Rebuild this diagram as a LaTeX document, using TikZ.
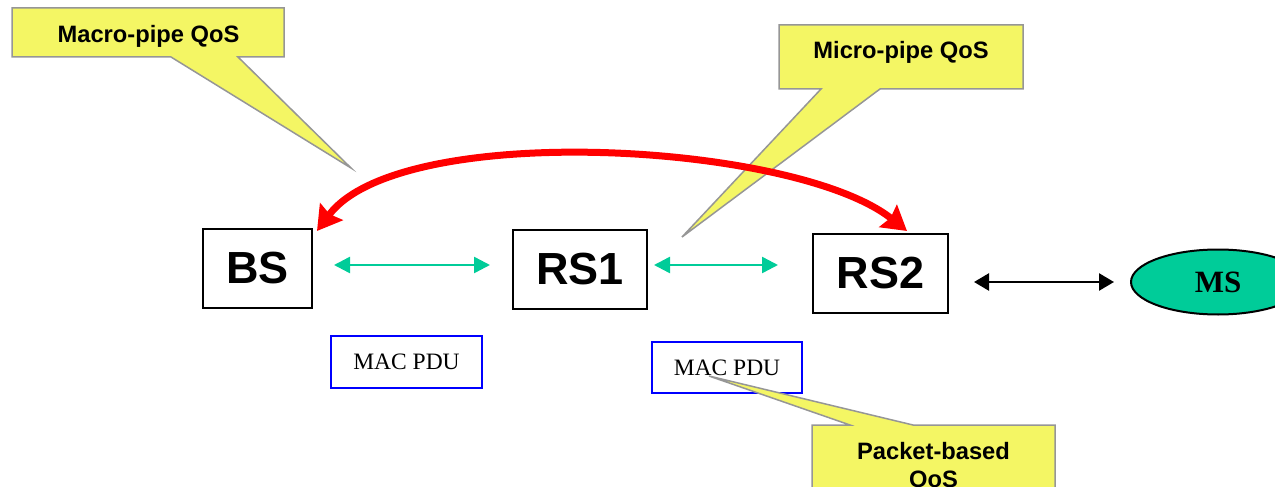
\documentclass[tikz,border=0pt]{standalone}
\usepackage{fontspec}
\setmainfont{Liberation Serif}
\setsansfont{Liberation Sans}
\usetikzlibrary{arrows.meta,shapes.geometric}
\definecolor{calloutyellow}{RGB}{244,246,100}
\definecolor{calloutgray}{RGB}{150,150,150}
\definecolor{linkgreen}{RGB}{0,204,153}
\definecolor{macblue}{RGB}{0,0,255}
\definecolor{arcred}{RGB}{255,0,0}
\begin{document}
\begin{tikzpicture}[x=1pt,y=-1pt,
  callout/.style={fill=calloutyellow,draw=calloutgray,line width=1.5pt,line join=miter},
  callouttext/.style={font=\fontsize{23.7}{28}\selectfont\sffamily\bfseries,inner sep=0pt,anchor=base},
  stationbox/.style={draw=black,line width=2pt,fill=white,inner sep=0pt,
    font=\fontsize{45}{50}\selectfont\sffamily\bfseries},
  pdubox/.style={draw=macblue,line width=2.5pt,inner sep=0pt,
    font=\fontsize{23.5}{26}\selectfont\rmfamily},
  greenlink/.style={draw=linkgreen,line width=2.5pt,{Triangle[length=16pt,width=16pt]}-{Triangle[length=16pt,width=16pt]}},
  blacklink/.style={draw=black,line width=2.5pt,{Triangle[length=15pt,width=17pt]}-{Triangle[length=15pt,width=17pt]}},
  redarc/.style={draw=arcred,line width=7pt,{Stealth[length=24pt,width=28pt,inset=3pt]}-{Stealth[length=24pt,width=28pt,inset=3pt]}},
  msnode/.style={ellipse,draw=black,line width=2pt,fill=linkgreen,inner sep=0pt,
    font=\fontsize{31}{34}\selectfont\rmfamily\bfseries}
]
\useasboundingbox (0,0) rectangle (1275,487);

% callouts (top)
\filldraw[callout] (12,8) -- (284,8) -- (284,57) -- (238,57) -- (351,168) -- (171,57) -- (12,57) -- cycle;
\node[callouttext] (macro) at (148.5,43) {Macro-pipe QoS};
\filldraw[callout] (779,25) -- (1023,25) -- (1023,89) -- (880,89) -- (682,237) -- (821,89) -- (779,89) -- cycle;
\node[callouttext] (micro) at (901,59) {Micro-pipe QoS};

% stations
\node[stationbox,minimum width=109pt,minimum height=79pt] (BS) at (257.5,268.5) {BS};
\node[stationbox,minimum width=134pt,minimum height=79pt] (RS1) at (580,269.5) {RS1};
\node[stationbox,minimum width=135pt,minimum height=79pt] (RS2) at (880.5,273.5) {RS2};
\node[msnode,minimum width=174pt,minimum height=65pt] (MS) at (1218,282) {MS};

% MAC PDU boxes
\node[pdubox,minimum width=151pt,minimum height=52pt] (pdu1) at (406.5,362) {MAC PDU};
\node[pdubox,minimum width=150pt,minimum height=51pt] (pdu2) at (727,367.5) {MAC PDU};

% links
\draw[greenlink,shorten <=21pt,shorten >=22pt] ([yshift=3.5pt]BS.east) -- ([yshift=3.5pt]BS.east -| RS1.west);
\draw[greenlink,shorten <=6pt,shorten >=34pt] ([yshift=4.5pt]RS1.east) -- ([yshift=4.5pt]RS1.east -| RS2.west);
\draw[blacklink,shorten <=25pt,shorten >=16pt] (RS2.east |- MS.west) -- (MS.west);

% red arc
\coordinate (bsend) at ([xshift=4pt,yshift=-3pt]BS.north east);
\coordinate (rs2end) at ([xshift=26.5pt,yshift=2pt]RS2.north);
\draw[redarc] (bsend) .. controls (400,120) and (795,142) .. (rs2end);

% packet-based callout
\filldraw[callout] (812,425) -- (850,425) -- (709,376) -- (913,425) -- (1055,425) -- (1055,520) -- (812,520) -- cycle;
\node[callouttext] (packet1) at (933.5,459) {Packet-based};
\node[callouttext] (packet2) at (933.5,487) {QoS};
\end{tikzpicture}
\end{document}
